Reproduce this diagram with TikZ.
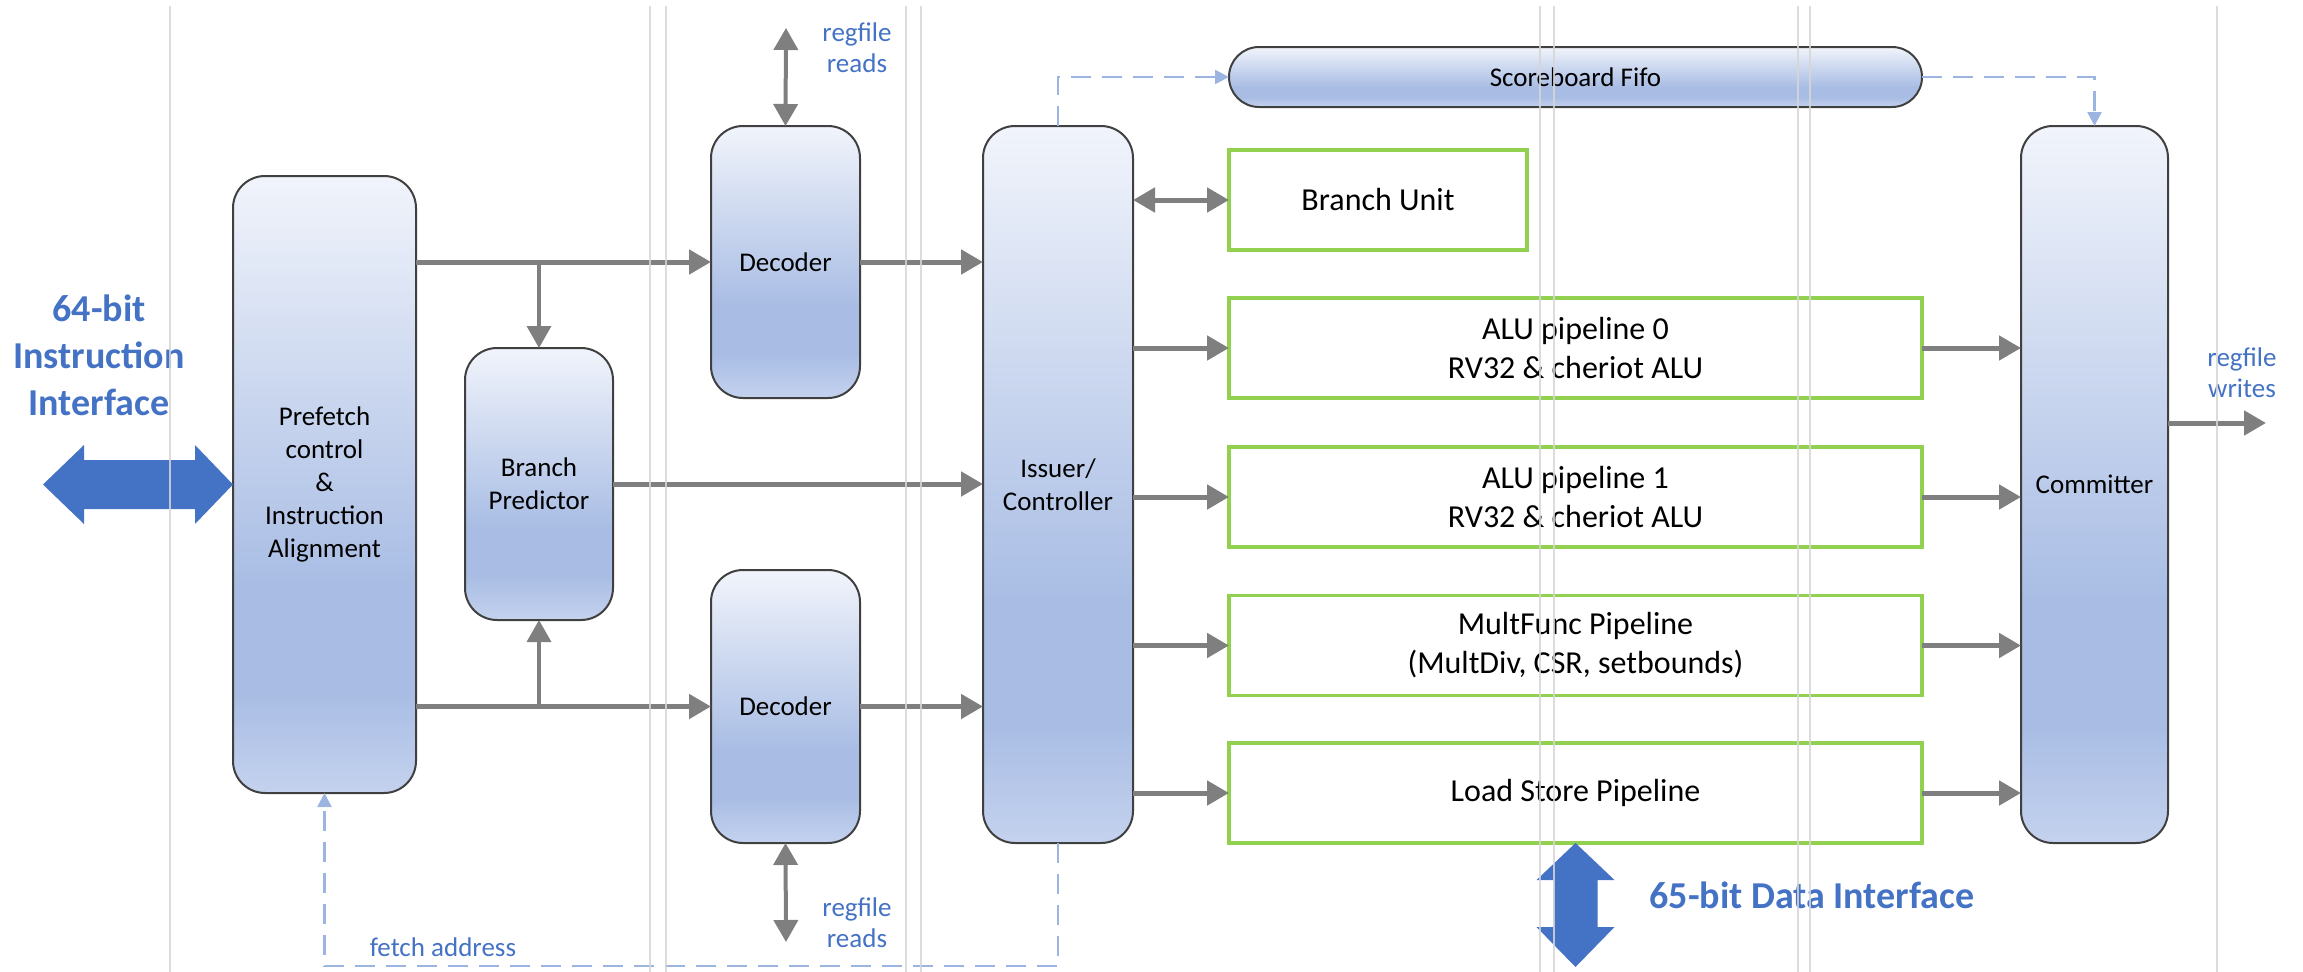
\documentclass[tikz,border=0pt]{standalone}
\usepackage{fontspec}
\setmainfont{Carlito}
\usetikzlibrary{arrows.meta}
\definecolor{flowgray}{HTML}{7F7F7F}
\definecolor{edgegray}{HTML}{404040}
\definecolor{pipegreen}{HTML}{92D050}
\definecolor{ifblue}{HTML}{4472C4}
\definecolor{ctrlblue}{HTML}{9CB4E0}
\definecolor{guidegray}{HTML}{D6D6D6}
\definecolor{shTop}{HTML}{F1F4FB}
\definecolor{shDark}{HTML}{A9BDE4}
\definecolor{shBot}{HTML}{C4D2EE}
\pgfdeclareverticalshading{blockshade}{100bp}{color(0bp)=(shBot); color(25bp)=(shBot); color(33bp)=(shDark); color(42bp)=(shDark); color(75bp)=(shTop); color(100bp)=(shTop)}
\tikzset{
  blockbox/.style={draw=edgegray, line width=2pt, shade, shading=blockshade, rounded corners=32pt, inner sep=0pt, outer sep=0pt, align=center, font=\fontsize{27}{33}\selectfont},
  pipebox/.style={draw=pipegreen, line width=3.5pt, fill=white, inner sep=0pt, outer sep=0pt, align=center, minimum width=693pt, minimum height=100pt, font=\fontsize{32}{39}\selectfont},
  flow/.style={draw=flowgray, line width=5pt, -{Triangle[length=22pt,width=24pt]}},
  flowboth/.style={flow, {Triangle[length=22pt,width=24pt]}-{Triangle[length=22pt,width=24pt]}},
  ctrl/.style={draw=ctrlblue, line width=2.5pt, dash pattern=on 20pt off 11pt, -{Triangle[length=14pt,width=14pt]}},
  note/.style={text=ifblue, align=center, font=\fontsize{27}{31}\selectfont},
  bignote/.style={text=ifblue, align=center, font=\bfseries\fontsize{38}{47}\selectfont},
}
\begin{document}
\begin{tikzpicture}[x=1pt,y=-1pt]
  \useasboundingbox (0,0) rectangle (2303,972);

  %%%%% blocks %%%%%
  \node[blockbox, minimum width=183pt, minimum height=617pt] (prefetch) at (324.5,484.5) {Prefetch\\control\\\&\\Instruction\\Alignment};
  \node[blockbox, minimum width=148pt, minimum height=272pt] (bp) at (539,484) {Branch\\Predictor};
  \node[blockbox, minimum width=149pt, minimum height=272pt] (dec1) at (785.5,262) {Decoder};
  \node[blockbox, minimum width=149pt, minimum height=273pt] (dec2) at (785.5,706.5) {Decoder};
  \node[blockbox, minimum width=150pt, minimum height=717pt] (issuer) at (1058,484.5) {Issuer/\\Controller};
  \node[blockbox, minimum width=693pt, minimum height=60pt, rounded corners=30pt] (fifo) at (1575.5,77) {Scoreboard Fifo};
  \node[blockbox, minimum width=147pt, minimum height=717pt] (committer) at (2094.5,484.5) {Committer};

  \node[pipebox, minimum width=298pt] (bru) at (1378,200) {Branch Unit};
  \node[pipebox] (alu0) at (1575.5,348) {ALU pipeline 0\\RV32 \& cheriot ALU};
  \node[pipebox] (alu1) at (1575.5,497) {ALU pipeline 1\\RV32 \& cheriot ALU};
  \node[pipebox] (mfp) at (1575.5,645.5) {MultFunc Pipeline\\(MultDiv, CSR, setbounds)};
  \node[pipebox] (lsp) at (1575.5,793) {Load Store Pipeline};

  %%%%% datapath %%%%%
  \draw[flow] (prefetch.east |- dec1.west) -- (dec1.west);
  \draw[flow] (prefetch.east |- dec2.west) -- (dec2.west);
  \draw[flow, line width=3.5pt] (bp.north |- dec1.west) -- (bp.north);
  \draw[flow, line width=3.5pt] (bp.south |- dec2.west) -- (bp.south);
  \draw[flow] (dec1.east) -- (dec1.east -| issuer.west);
  \draw[flow] (dec2.east) -- (dec2.east -| issuer.west);
  \draw[flow] (bp.east) -- (bp.east -| issuer.west);

  \draw[flowboth] (issuer.east |- bru.west) -- (bru.west);
  \foreach \p in {alu0,alu1,mfp,lsp}{
    \draw[flow] (issuer.east |- \p.west) -- (\p.west);
    \draw[flow] (\p.east) -- (\p.east -| committer.west);
  }

  \coordinate (rdtop) at (786,28);
  \coordinate (rdbot) at (786,942);
  \coordinate (wrout) at (2266,423);
  \draw[flowboth, line width=4pt] (rdtop) -- (dec1.north);
  \draw[flowboth, line width=4pt] (dec2.south) -- (rdbot);
  \draw[flow] (committer.east |- wrout) -- (wrout);

  %%%%% control %%%%%
  \coordinate (fetchlow) at (0,966);
  \draw[ctrl] (issuer.north) |- (fifo.west);
  \draw[ctrl] (fifo.east) -| (committer.north);
  \draw[ctrl] (issuer.south) -- (issuer.south |- fetchlow) -| (prefetch.south);

  %%%%% interfaces %%%%%
  \fill[ifblue] (prefetch.west) -- ++(-38,-39.5) -- ++(0,15) -- ++(-111,0) -- ++(0,-15) -- ++(-41,39.5)
    -- ++(41,39.5) -- ++(0,-15) -- ++(111,0) -- ++(0,15) -- cycle;
  \fill[ifblue] (lsp.south) -- ++(39,37) -- ++(-17,0) -- ++(0,47) -- ++(17,0) -- ++(-39,40)
    -- ++(-39,-40) -- ++(17,0) -- ++(0,-47) -- ++(-17,0) -- cycle;

  %%%%% labels %%%%%
  \node[bignote] (instlab) at (99,355) {64-bit\\Instruction\\Interface};
  \node[bignote, anchor=west] (datalab) at (1646,895) {65-bit Data Interface};
  \node[note] (rdlab1) at (857,48) {regfile\\reads};
  \node[note] (rdlab2) at (857,923) {regfile\\reads};
  \node[note] (wrlab) at (2242,373) {regfile\\writes};
  \node[note] (fetchlab) at (443,947) {fetch address};

  %%%%% guides %%%%%
  \foreach \x in {170,650,666,906,921,1540,1554,1798,1810,2217}
    \draw[guidegray, line width=1.5pt, opacity=0.85] (\x,6) -- (\x,972);
\end{tikzpicture}
\end{document}
